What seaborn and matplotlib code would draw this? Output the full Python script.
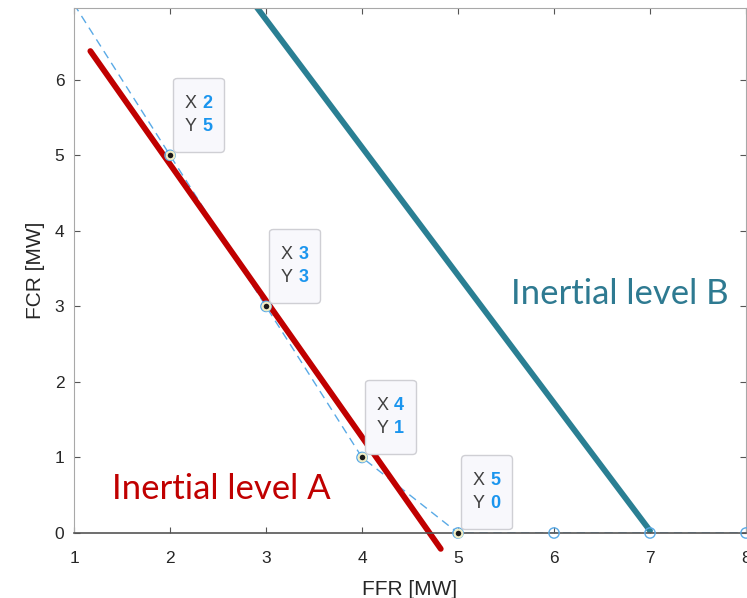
import numpy as np
import pandas as pd
import seaborn as sns
import matplotlib.pyplot as plt
from matplotlib.offsetbox import TextArea, HPacker, VPacker, DrawingArea, AnnotationBbox

# dashed operating boundary
ffr = [1, 2, 3, 4, 5, 6, 7, 8]
fcr = [7, 5, 3, 1, 0, 0, 0, 0]

# data tips shown on the chart
tip_x = [2, 3, 4, 5]
tip_y = [5, 3, 1, 0]

# inertia level lines
line_a_x = [1.17, 4.82]
line_a_y = [6.38, -0.21]
line_b_x = [2.85, 7.0]
line_b_y = [7.05, 0.03]

sns.set_style('white')
plt.rcParams['font.family'] = ['Liberation Sans', 'DejaVu Sans']

fig = plt.figure(figsize=(7.47, 5.98), dpi=100)
ax = fig.add_axes([0.0991, 0.1087, 0.8996, 0.8779])
ymax = 6.95

df = pd.DataFrame({'FFR': ffr, 'FCR': fcr})
sns.lineplot(data=df, x='FFR', y='FCR', ax=ax, color='#5aaae6', lw=1.0,
             linestyle=(0, (6, 4)))
# markers are only hidden when their point is outside the limits
inside = df[df['FCR'] <= ymax]
sns.scatterplot(data=inside, x='FFR', y='FCR', ax=ax, s=55, facecolor='none',
                edgecolor='#5aaae6', linewidth=1.0, clip_on=False, zorder=3)

sns.lineplot(x=line_a_x, y=line_a_y, ax=ax, color='#c00000', lw=4.2, clip_on=False)
sns.lineplot(x=line_b_x, y=line_b_y, ax=ax, color='#2a7f93', lw=4.2)

# data tip markers
ax.scatter(tip_x, tip_y, s=30, color='#1a1a1a', edgecolor='#f0edc4', linewidth=1.5,
           zorder=7, clip_on=False)

for x, y in zip(tip_x, tip_y):
    rows = []
    for lab, val in (('X', x), ('Y', y)):
        t1 = TextArea(lab, textprops=dict(color='#404040', fontsize=13))
        t2 = TextArea(str(val), textprops=dict(color='#1a95ee', fontsize=13,
                                               fontweight='bold'))
        rows.append(HPacker(children=[t1, t2], pad=0, sep=4, align='baseline'))
    inner = VPacker(children=rows, pad=0, sep=4.5, align='left')
    box = VPacker(children=[DrawingArea(1, 4), inner, DrawingArea(1, 4)],
                  pad=0, sep=0, align='left')
    ab = AnnotationBbox(box, (x, y), xybox=(10.5, 10.8), xycoords='data',
                        boxcoords='offset points', box_alignment=(0, 0),
                        frameon=True,
                        bboxprops=dict(boxstyle='round,pad=0.82,rounding_size=0.25',
                                       facecolor='#f8f8fc', edgecolor='#cfcfd4', lw=1.0))
    ab.set_zorder(6)
    ax.add_artist(ab)

ax.text(1.4, 0.58, 'Inertial level A', color='#c00000', fontsize=25,
        family='Lato', ha='left', va='center')
ax.text(5.55, 3.16, 'Inertial level B', color='#2e7a91', fontsize=25,
        family='Lato', ha='left', va='center')

ax.set_xlim(1, 8)
ax.set_ylim(0, ymax)
ax.set_xticks(range(1, 9))
ax.set_yticks(range(0, 7))
ax.set_xlabel('FFR [MW]', fontsize=15, color='#262626', labelpad=10)
ax.set_ylabel('FCR [MW]', fontsize=15, color='#262626', labelpad=7)
ax.tick_params(direction='in', length=4, width=0.8, colors='#555555',
               labelcolor='#262626', labelsize=12.5, top=True, right=True,
               bottom=True, left=True)
ax.tick_params(axis='x', pad=13)
ax.tick_params(axis='y', pad=7)
for side in ('left', 'top', 'right'):
    ax.spines[side].set_color('#a8a8a8')
    ax.spines[side].set_linewidth(0.8)
ax.spines['bottom'].set_color('#555555')
ax.spines['bottom'].set_linewidth(1.2)

fig.savefig('out.png', dpi=100)
